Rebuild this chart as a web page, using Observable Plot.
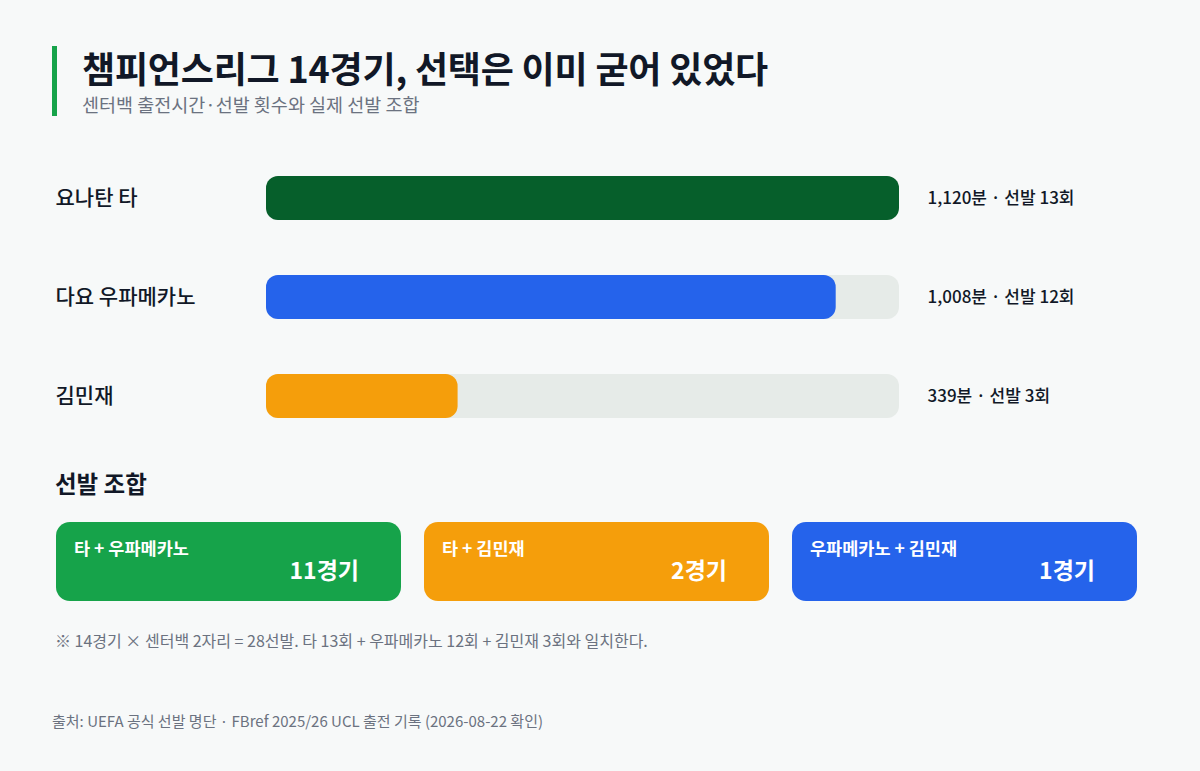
<!DOCTYPE html>
<html><head><meta charset="utf-8">
<script src="https://cdn.jsdelivr.net/npm/d3@7"></script>
<script src="https://cdn.jsdelivr.net/npm/@observablehq/plot@0.6"></script>
<style>
body{margin:0;background:#f7f9f9;font-family:"Noto Sans CJK KR","Noto Sans",sans-serif;}
#root{position:relative;width:1200px;height:771px;overflow:hidden;background:#f7f9f9;}
.abs{position:absolute;white-space:nowrap;}
#accent{left:52px;top:46px;width:5px;height:70px;background:#16a34a;}
#title{left:82px;top:42px;font-size:36px;line-height:50px;font-weight:700;color:#111827;letter-spacing:-0.2px;}
#subtitle{left:82px;top:92px;font-size:18.5px;line-height:24px;color:#6b7280;}
#section{left:55px;top:467px;font-size:23.5px;line-height:32px;font-weight:700;color:#111827;}
#note{left:55px;top:629px;font-size:16px;line-height:22px;color:#6b7280;}
#source{left:52px;top:711px;font-size:15px;line-height:20px;color:#6b7280;}
#bars{left:0;top:148px;}
#cards{left:0;top:522px;}
</style></head><body><div id="root">
<div id="accent" class="abs"></div>
<div id="title" class="abs">챔피언스리그 14경기, 선택은 이미 굳어 있었다</div>
<div id="subtitle" class="abs">센터백 출전시간·선발 횟수와 실제 선발 조합</div>
<div id="bars" class="abs"></div>
<div id="section" class="abs">선발 조합</div>
<div id="cards" class="abs"></div>
<div id="note" class="abs">※ 14경기 × 센터백 2자리 = 28선발. 타 13회 + 우파메카노 12회 + 김민재 3회와 일치한다.</div>
<div id="source" class="abs">출처: UEFA 공식 선발 명단 · FBref 2025/26 UCL 출전 기록 (2026-08-22 확인)</div>
</div>
<script>
const players = ["요나탄 타", "다요 우파메카노", "김민재"];
const minutes = [1120, 1008, 339];
const starts = [13, 12, 3];
const barColors = ["#065f2b", "#2563eb", "#f59e0b"];

const combos = ["타 + 우파메카노", "타 + 김민재", "우파메카노 + 김민재"];
const comboGames = [11, 2, 1];
const comboColors = ["#16a34a", "#f59e0b", "#2563eb"];

const rows = players.map((name, i) => ({name, minutes: minutes[i], starts: starts[i], color: barColors[i]}));
const cards = combos.map((combo, i) => ({combo, games: comboGames[i], color: comboColors[i]}));
const maxMin = d3.max(minutes);
const fontFamily = '"Noto Sans CJK KR","Noto Sans",sans-serif';

const bars = Plot.plot({
  width: 1200, height: 297,
  marginLeft: 266, marginRight: 301, marginTop: 0, marginBottom: 0,
  style: {background: "transparent", fontFamily},
  x: {domain: [0, maxMin], axis: null},
  y: {domain: players, axis: null, paddingInner: 0.5556, paddingOuter: 0.2778},
  color: {type: "identity"},
  marks: [
    Plot.barX(rows, {x1: 0, x2: () => maxMin, y: "name", fill: "#e6ebe8", rx: 12}),
    Plot.barX(rows, {x: "minutes", y: "name", fill: "color", rx: 12}),
    Plot.text(rows, {y: "name", text: "name", frameAnchor: "left", textAnchor: "start", dx: -211,
      fontSize: 21, fontWeight: 500, fill: "#111827"}),
    Plot.text(rows, {y: "name", text: d => `${d3.format(",")(d.minutes)}분 · 선발 ${d.starts}회`,
      frameAnchor: "right", textAnchor: "start", dx: 28, fontSize: 17, fontWeight: 500, fill: "#111827"})
  ]
});
document.getElementById("bars").appendChild(bars);

const cardPlot = Plot.plot({
  width: 1200, height: 79,
  marginLeft: 55, marginRight: 62, marginTop: 0, marginBottom: 0,
  style: {background: "transparent", fontFamily},
  x: {domain: combos, axis: null, paddingInner: 23 / 369, paddingOuter: 0},
  color: {type: "identity"},
  marks: [
    Plot.cell(cards, {x: "combo", fill: "color", rx: 14, inset: 0}),
    Plot.text(cards, {x: "combo", text: "combo", frameAnchor: "top", dy: 20, dx: -155, textAnchor: "start",
      fill: "white", fontSize: 17.5, fontWeight: 700}),
    Plot.text(cards, {x: "combo", text: d => `${d.games}경기`, frameAnchor: "top", dy: 40, dx: 130, textAnchor: "end",
      fill: "white", fontSize: 23, fontWeight: 700})
  ]
});
document.getElementById("cards").appendChild(cardPlot);
</script>
</body></html>
